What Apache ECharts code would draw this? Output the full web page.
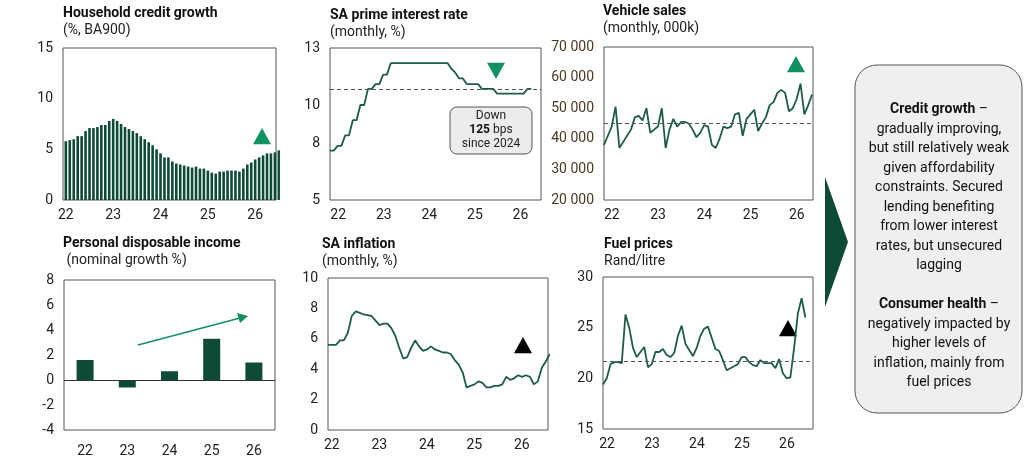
<!DOCTYPE html>
<html>
<head>
<meta charset="utf-8">
<script src="https://cdn.jsdelivr.net/npm/echarts@6/dist/echarts.min.js"></script>
<style>html,body{margin:0;padding:0;background:#fff}#main{width:1024px;height:461px}</style>
</head>
<body>
<div id="main"></div>
<script>
// monthly series, each starting at the left edge of its panel
var yearTicks = [22, 23, 24, 25, 26];
var creditGrowth = [5.8,5.9,6.0,6.3,6.3,6.8,7.1,7.1,7.2,7.4,7.4,7.8,
  8.0,7.8,7.5,7.2,7.0,6.8,6.6,6.3,6.0,5.7,5.4,5.0,
  4.6,4.2,4.2,3.8,3.6,3.5,3.4,3.3,3.2,3.3,3.1,3.1,
  2.9,2.7,2.6,2.8,2.8,2.9,2.9,2.9,2.8,3.1,3.5,3.7,
  4.0,4.2,4.4,4.6,4.6,4.7,4.9];
var primeRate = [7.6,7.6,7.85,7.85,8.4,8.4,9.2,9.2,10.0,10.0,10.85,10.85,
  11.1,11.1,11.6,11.6,12.2,12.2,12.2,12.2,12.2,12.2,12.2,12.2,
  12.2,12.2,12.2,12.2,12.2,12.2,12.2,12.2,11.9,11.7,11.4,11.4,
  11.1,11.1,11.1,11.1,10.85,10.85,10.85,10.85,10.6,10.6,10.6,10.6,
  10.6,10.6,10.6,10.6,10.85,10.85];
var vehicleSales = [38000,41000,44000,50500,37000,39000,41000,43000,47000,47500,
  46000,50000,42000,43000,44000,50000,37000,43000,46500,44000,
  45500,45500,45000,43000,40500,42000,44500,44000,38000,37000,
  40000,44000,43500,44000,48000,48500,41000,46500,48000,49500,
  42500,45000,47000,51000,52000,55000,56000,55000,49000,50000,
  53000,58000,48000,51000,54500];
var pdiYears = ['22','23','24','25','26'];
var pdiGrowth = [1.6,-0.6,0.7,3.3,1.4];
var inflation = [5.6,5.6,5.6,5.9,5.9,6.4,7.5,7.8,7.7,7.6,7.55,7.5,
  7.2,6.9,7.0,7.0,6.7,6.2,5.4,4.7,4.8,5.4,5.9,5.5,
  5.2,5.3,5.5,5.3,5.2,5.1,5.1,5.0,4.6,4.3,3.8,2.8,
  2.9,3.0,3.2,3.1,2.8,2.8,2.9,2.9,3.0,3.5,3.3,3.4,
  3.6,3.5,3.6,3.5,3.0,3.2,4.1,4.5,5.0];
var fuelPrice = [19.4,20.0,21.4,21.6,21.6,21.5,26.3,25.0,23.0,22.1,22.6,23.1,
  21.1,21.4,22.6,22.6,22.9,22.3,22.1,22.5,24.2,25.2,23.4,22.8,
  22.2,23.0,24.2,24.9,25.1,24.0,22.9,22.7,21.8,20.8,21.0,21.2,
  21.4,22.1,22.1,21.6,21.3,21.2,21.8,21.5,21.5,21.5,21.0,21.9,
  20.5,20.0,20.1,23.0,26.4,27.9,26.0];
var primeRef = 10.85, vehicleRef = 45000, fuelRef = 21.7;

function monthly(arr, start) {
  return arr.map(function (v, i) { return [start + i / 12, v]; });
}

var FONT = 'Roboto';
var DARK = '#0d4a37', LINE = '#1d5c45', ACCENT = '#12915f';
var panels = [
  {left: 63, top: 48, w: 213, h: 152, x0: 21.94, x1: 26.44},
  {left: 330, top: 48, w: 211, h: 152, x0: 21.82, x1: 26.45},
  {left: 604, top: 47, w: 209, h: 153, x0: 21.83, x1: 26.35},
  {left: 64, top: 280, w: 211, h: 150},
  {left: 328, top: 278, w: 220, h: 152, x0: 21.92, x1: 26.55},
  {left: 603, top: 277, w: 210, h: 152, x0: 21.91, x1: 26.58}
];
var yDefs = [
  {min: 0, max: 15, interval: 5},
  {min: 5, max: 13, interval: 1, custom: [5, 8, 10, 13]},
  {min: 20000, max: 70000, interval: 10000, fmt: function (v) { return String(v).replace(/(\d+)(\d{3})$/, '$1 $2'); }, color: '#4a3a22'},
  {min: -4, max: 8, interval: 2},
  {min: 0, max: 10, interval: 2},
  {min: 15, max: 30, interval: 5}
];

var grids = [], xAxes = [], yAxes = [];
panels.forEach(function (p, i) {
  grids.push({left: p.left, top: p.top, width: p.w, height: p.h, show: true,
    borderColor: '#555', borderWidth: 1, containLabel: false});
  if (i === 3) {
    xAxes.push({type: 'category', gridIndex: i, data: pdiYears, position: 'bottom', offset: 0,
      axisLine: {show: false}, axisTick: {show: false},
      axisLabel: {color: '#222', fontSize: 14, fontFamily: FONT, margin: 14}});
  } else {
    xAxes.push({type: 'value', gridIndex: i, min: p.x0, max: p.x1,
      axisLine: {show: false}, axisTick: {show: false}, splitLine: {show: false},
      axisLabel: {customValues: yearTicks, color: '#222', fontSize: 14, fontFamily: FONT, margin: 8}});
  }
  var y = yDefs[i];
  var lab = {color: y.color || '#222', fontSize: 14, fontFamily: FONT, margin: 10};
  if (y.custom) lab.customValues = y.custom;
  if (y.fmt) lab.formatter = y.fmt;
  yAxes.push({type: 'value', gridIndex: i, min: y.min, max: y.max, interval: y.interval,
    axisLine: {show: false}, axisTick: {show: false}, splitLine: {show: false}, axisLabel: lab});
});

function refLine(v) {
  return {silent: true, symbol: 'none', label: {show: false},
    lineStyle: {color: '#555', type: [4, 3], width: 1}, data: [{yAxis: v}]};
}
function lineSeries(i, data, start, ref) {
  var s = {type: 'line', xAxisIndex: i, yAxisIndex: i, data: monthly(data, start),
    showSymbol: false, lineStyle: {color: LINE, width: 1.8}};
  if (ref !== undefined) s.markLine = refLine(ref);
  return s;
}

var series = [
  {type: 'bar', xAxisIndex: 0, yAxisIndex: 0, data: monthly(creditGrowth, 22), barWidth: 2.6,
    itemStyle: {color: DARK}},
  lineSeries(1, primeRate, 21.82, primeRef),
  lineSeries(2, vehicleSales, 21.83, vehicleRef),
  {type: 'bar', xAxisIndex: 3, yAxisIndex: 3, data: pdiGrowth, barWidth: 17,
    itemStyle: {color: DARK},
    markLine: {silent: true, symbol: 'none', label: {show: false},
      lineStyle: {color: '#333', type: 'solid', width: 1}, data: [{yAxis: 0}]}},
  lineSeries(4, inflation, 21.92),
  lineSeries(5, fuelPrice, 21.91, fuelRef)
];

var titles = [
  ['Household credit growth', '(%, BA900)', 63, 14],
  ['SA prime interest rate', '(monthly, %)', 330, 16],
  ['Vehicle sales', '(monthly, 000k)', 603, 12],
  ['Personal disposable income', ' (nominal growth %)', 63, 244],
  ['SA inflation', '(monthly, %)', 322, 245],
  ['Fuel prices', 'Rand/litre', 604, 245]
];
var graphic = [];
titles.forEach(function (t) {
  graphic.push({type: 'text', left: t[2], top: t[3] - 8, style: {text: t[0], font: 'bold 14px ' + FONT, fill: '#111'}});
  graphic.push({type: 'text', left: t[2], top: t[3] + 9, style: {text: t[1], font: '14px ' + FONT, fill: '#222'}});
});
function tri(cx, cy, up, color) {
  var s = 9;
  var pts = up ? [[cx, cy - s], [cx + s, cy + s * 0.8], [cx - s, cy + s * 0.8]]
               : [[cx - s, cy - s * 0.8], [cx + s, cy - s * 0.8], [cx, cy + s]];
  return {type: 'polygon', shape: {points: pts}, style: {fill: color}};
}
graphic.push(tri(262, 137, true, '#129160'));
graphic.push(tri(796, 65, true, '#129160'));
graphic.push(tri(496, 70, false, '#129160'));
graphic.push(tri(523, 346, true, '#000'));
graphic.push(tri(788, 329, true, '#000'));
// annotation box in prime panel
graphic.push({type: 'rect', shape: {x: 450, y: 107, width: 82, height: 47, r: 7},
  style: {fill: '#ececec', stroke: '#555', lineWidth: 1}});
graphic.push({type: 'text', x: 491, y: 130, style: {
  text: 'Down\n{b|125} bps\nsince 2024', font: '12px ' + FONT, fill: '#222', align: 'center',
  verticalAlign: 'middle', lineHeight: 14, rich: {b: {font: 'bold 12px ' + FONT, fill: '#111'}}}});
// arrow in PDI panel
graphic.push({type: 'line', shape: {x1: 138, y1: 345, x2: 240, y2: 318}, style: {stroke: ACCENT, lineWidth: 1.5}});
graphic.push({type: 'polygon', shape: {points: [[248, 316], [237, 313], [240, 323]]}, style: {fill: ACCENT}});
// chevron and summary box
graphic.push({type: 'polygon', shape: {points: [[825, 177], [848, 242], [825, 307]]}, style: {fill: DARK}});
graphic.push({type: 'rect', shape: {x: 855, y: 65, width: 167, height: 348, r: 22},
  style: {fill: '#efefef', stroke: '#555', lineWidth: 1}});
graphic.push({type: 'text', x: 939, y: 100, style: {
  text: '{b|Credit growth} –\ngradually improving,\nbut still relatively weak\ngiven affordability\nconstraints. Secured\nlending benefiting\nfrom lower interest\nrates, but unsecured\nlagging\n \n{b|Consumer health} –\nnegatively impacted by\nhigher levels of\ninflation, mainly from\nfuel prices',
  font: '14px ' + FONT, fill: '#111', align: 'center', lineHeight: 19.5,
  rich: {b: {font: 'bold 14px ' + FONT, fill: '#111', lineHeight: 19.5}}}});

var myChart = echarts.init(document.getElementById('main'));
var option = {
  animation: false,
  textStyle: {fontFamily: FONT},
  grid: grids, xAxis: xAxes, yAxis: yAxes, series: series, graphic: graphic
};
myChart.setOption(option, true);
</script>
</body>
</html>
